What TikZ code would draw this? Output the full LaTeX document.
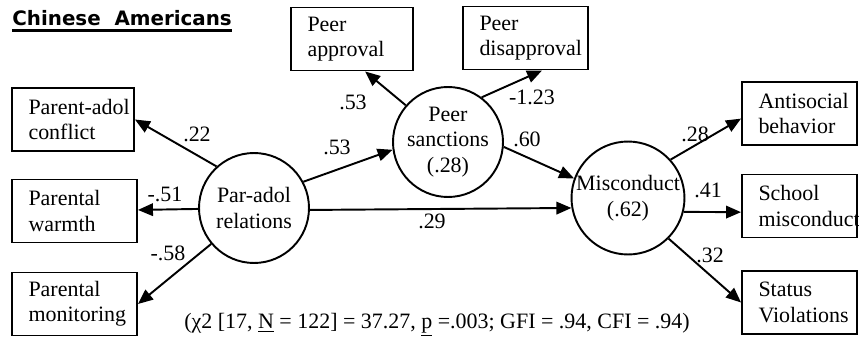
\documentclass[tikz,border=0pt]{standalone}
\usepackage{fontspec}
\setmainfont{Liberation Serif}
\newfontfamily\titlefont{DejaVu Sans}
\usetikzlibrary{arrows.meta}

\begin{document}
\begin{tikzpicture}[x=0.02cm, y=-0.02cm,
    font=\fontsize{12.5}{14.5}\selectfont,
    box/.style={draw, line width=1.1pt, align=left, text width=#1,
      inner xsep=0.33cm, minimum height=1.26cm},
    box/.default=1.8cm,
    latent/.style={draw, circle, line width=1.1pt, minimum size=2.2cm,
      inner sep=0pt, align=center},
    effect/.style={line width=1.1pt, -{Triangle[length=0.3cm,width=0.25cm]}},
    coef/.style={inner sep=0pt}]
  \useasboundingbox (0,0) rectangle (859,338) ;
  \node[anchor=base west, inner sep=0pt,
    font=\titlefont\bfseries\fontsize{11.3}{13}\selectfont] (title) at (12,26)
    {Chinese\ \ Americans} ;
  \draw[line width=1.6pt] ([yshift=-2.5pt]title.base west) --
    ([yshift=-2.5pt]title.base east) ;
  % indicators
  \node[box=1.78cm] (conflict) at (73,119.5) {\mbox{Parent-adol}\\conflict} ;
  \node[box=1.84cm] (warmth) at (74.5,211) {Parental\\warmth} ;
  \node[box=1.84cm] (monitoring) at (74.5,304) {Parental\\monitoring} ;
  \node[box=1.78cm] (approval) at (352,39) {Peer\\approval} ;
  \node[box=1.84cm] (disapproval) at (525.5,38) {Peer\\disapproval} ;
  \node[box=1.64cm] (antisocial) at (799.5,113.5) {Antisocial\\behavior} ;
  \node[box=1.64cm] (school) at (799.5,206) {School\\misconduct} ;
  \node[box=1.64cm] (status) at (799.5,302.5) {Status\\Violations} ;
  % latent variables
  \node[latent] (paradol) at (254,208) {Par-adol\\relations} ;
  \node[latent] (sanctions) at (448,142) {Peer\\sanctions\\(.28)} ;
  \node[latent] (misconduct) at (628,198) {Misconduct\\(.62)} ;
  \draw[effect] (paradol.132) -- (conflict.east) ;
  \draw[effect] (paradol) -- (warmth) ;
  \draw[effect] (paradol.220) -- (monitoring.east) ;
  \draw[effect] (paradol.28) -- (sanctions.188) ;
  \draw[effect] (paradol.-2) -- (misconduct.190) ;
  \draw[effect] (sanctions.139) -- (approval.-68) ;
  \draw[effect] (sanctions.53) -- (disapproval.-63) ;
  \draw[effect] (sanctions.-5) -- (misconduct.160) ;
  \draw[effect] (misconduct.42) -- (antisocial.185) ;
  \draw[effect] (misconduct.-14) -- (school.186) ;
  \draw[effect] (misconduct.-45) -- (status.west) ;
  \node[coef] (c22) at (197,134) {.22} ;
  \node[coef] (c51) at (165,194) {-.51} ;
  \node[coef] (c58) at (168,253) {-.58} ;
  \node[coef] (c53a) at (337,147) {.53} ;
  \node[coef] (c53b) at (353,102) {.53} ;
  \node[coef] (c123) at (532,97) {-1.23} ;
  \node[coef] (c60) at (527,139) {.60} ;
  \node[coef] (c29) at (432,221) {.29} ;
  \node[coef] (c28) at (695,134) {.28} ;
  \node[coef] (c41) at (708,190) {.41} ;
  \node[coef] (c32) at (710,255) {.32} ;
  \node (fit) at (437,325) {(χ2 [17, \underline{N} = 122] = 37.27,
    \underline{p} =.003; GFI = .94, CFI = .94)} ;
\end{tikzpicture}
\end{document}
